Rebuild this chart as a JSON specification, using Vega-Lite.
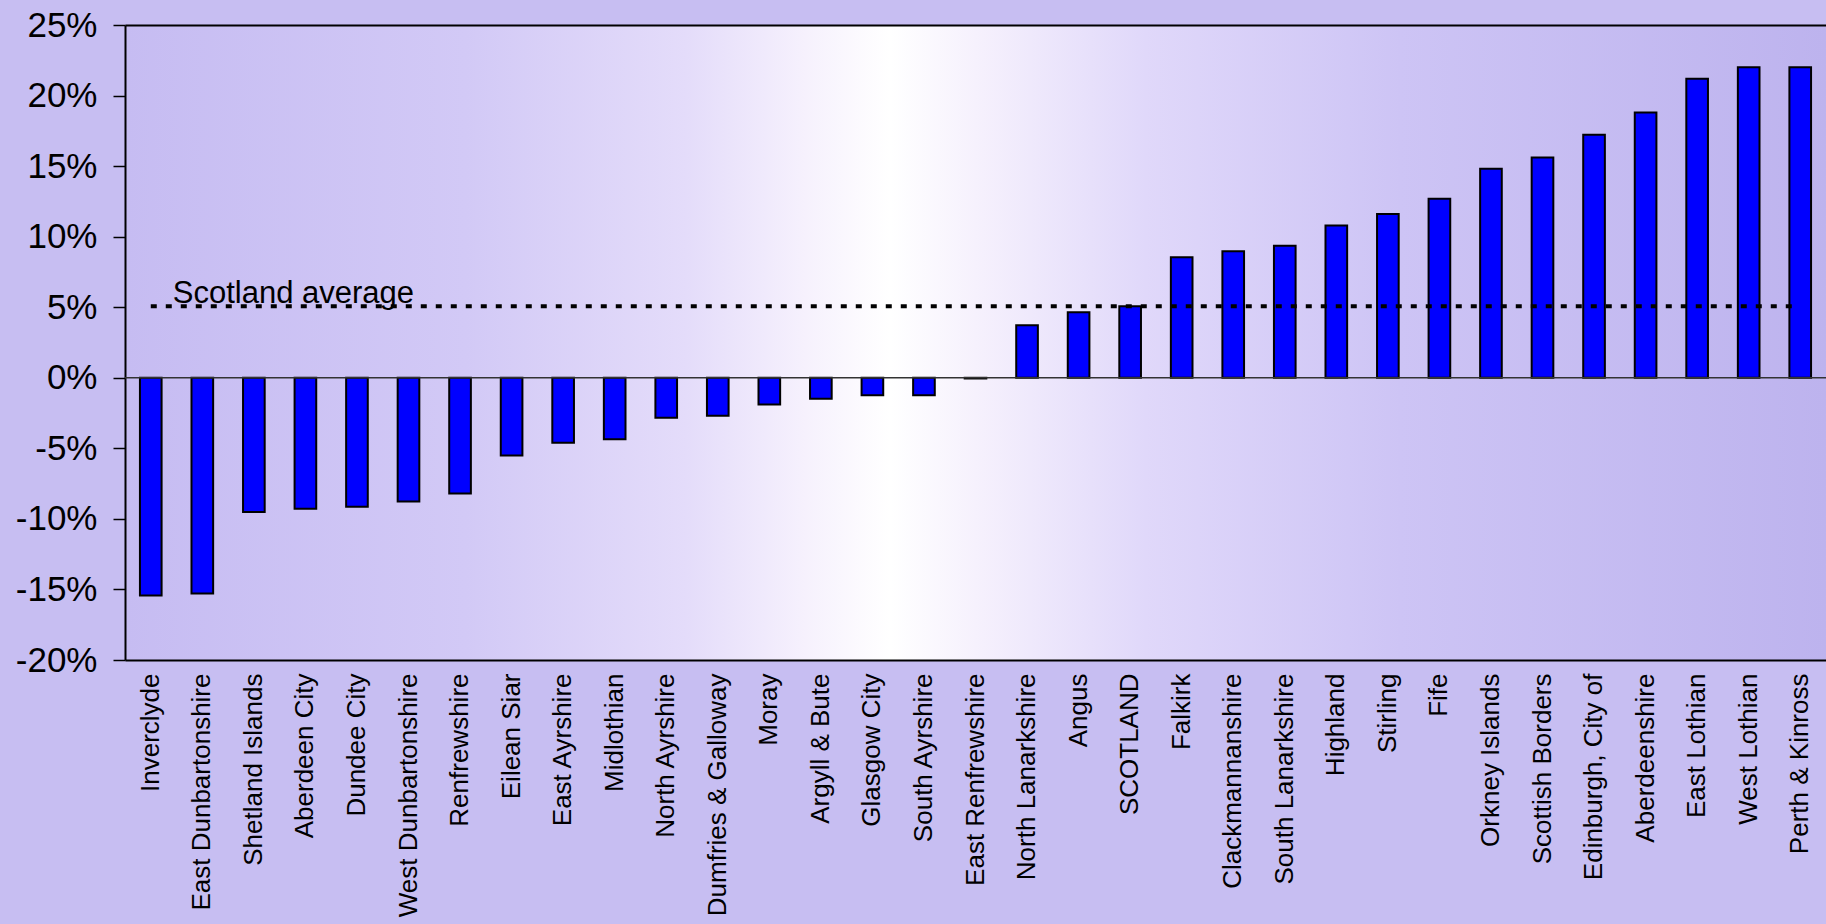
{
  "$schema": "https://vega.github.io/schema/vega-lite/v6.json",
  "width": 1701,
  "height": 635,
  "autosize": {"type": "none"},
  "padding": {"left": 125, "top": 25, "right": 0, "bottom": 264},
  "background": "#c7bef2",
  "config": {
    "view": {
      "stroke": null,
      "fill": {
        "gradient": "linear",
        "x1": 0, "y1": 0, "x2": 1, "y2": 0,
        "stops": [
          {"offset": 0, "color": "#c6bcf2"},
          {"offset": 0.2, "color": "#d2c9f6"},
          {"offset": 0.33, "color": "#e4dcfa"},
          {"offset": 0.4, "color": "#f6f1fd"},
          {"offset": 0.45, "color": "#ffffff"},
          {"offset": 0.5, "color": "#f6f1fd"},
          {"offset": 0.6, "color": "#e0d8fa"},
          {"offset": 0.75, "color": "#cdc4f5"},
          {"offset": 1, "color": "#bdb3ee"}
        ]
      }
    },
    "font": "Liberation Sans"
  },
  "datasets": {
    "main": [
      {"area": "Inverclyde", "change": -15.43},
      {"area": "East Dunbartonshire", "change": -15.29},
      {"area": "Shetland Islands", "change": -9.52},
      {"area": "Aberdeen City", "change": -9.28},
      {"area": "Dundee City", "change": -9.14},
      {"area": "West Dunbartonshire", "change": -8.77},
      {"area": "Renfrewshire", "change": -8.2},
      {"area": "Eilean Siar", "change": -5.5},
      {"area": "East Ayrshire", "change": -4.6},
      {"area": "Midlothian", "change": -4.35},
      {"area": "North Ayrshire", "change": -2.84},
      {"area": "Dumfries & Galloway", "change": -2.69},
      {"area": "Moray", "change": -1.89},
      {"area": "Argyll & Bute", "change": -1.49},
      {"area": "Glasgow City", "change": -1.23},
      {"area": "South Ayrshire", "change": -1.23},
      {"area": "East Renfrewshire", "change": -0.05},
      {"area": "North Lanarkshire", "change": 3.73},
      {"area": "Angus", "change": 4.65},
      {"area": "SCOTLAND", "change": 5.07},
      {"area": "Falkirk", "change": 8.55},
      {"area": "Clackmannanshire", "change": 8.97},
      {"area": "South Lanarkshire", "change": 9.35},
      {"area": "Highland", "change": 10.8},
      {"area": "Stirling", "change": 11.6},
      {"area": "Fife", "change": 12.69},
      {"area": "Orkney Islands", "change": 14.81},
      {"area": "Scottish Borders", "change": 15.61},
      {"area": "Edinburgh, City of", "change": 17.22},
      {"area": "Aberdeenshire", "change": 18.8},
      {"area": "East Lothian", "change": 21.19},
      {"area": "West Lothian", "change": 22.0},
      {"area": "Perth & Kinross", "change": 22.0}
    ],
    "avg": [
      {"area": "Inverclyde", "change": 5.07, "label": "Scotland average"},
      {"area": "Perth & Kinross", "change": 5.07, "label": ""}
    ]
  },
  "layer": [
    {
      "data": {"name": "main"},
      "mark": {"type": "bar", "fill": "#0000ff", "stroke": "#000000", "strokeWidth": 2},
      "encoding": {
        "x": {
          "field": "area", "type": "nominal", "sort": null,
          "scale": {"paddingInner": 0.58, "paddingOuter": 0.29},
          "axis": {
            "title": null, "labelAngle": -90, "labelAlign": "right", "labelBaseline": "middle",
            "labelFontSize": 26, "labelColor": "#000000", "labelPadding": 13,
            "ticks": false, "domainColor": "#000000", "domainWidth": 2, "labelLimit": 400,
            "labelOverlap": false
          }
        },
        "y": {
          "field": "change", "type": "quantitative",
          "scale": {"domain": [-20, 25], "nice": false, "zero": false},
          "axis": {
            "title": null, "values": [-20, -15, -10, -5, 0, 5, 10, 15, 20, 25],
            "labelExpr": "datum.value + '%'", "labelFontSize": 35, "labelColor": "#000000",
            "tickSize": 12, "tickColor": "#000000", "tickWidth": 1.5, "labelPadding": 16,
            "domainColor": "#000000", "domainWidth": 2, "grid": false
          }
        }
      }
    },
    {
      "data": {"values": [{"zero": 0}]},
      "mark": {"type": "rule", "color": "#333333", "strokeWidth": 1.5},
      "encoding": {"y": {"field": "zero", "type": "quantitative"}}
    },
    {
      "data": {"name": "avg"},
      "mark": {"type": "line", "color": "#000000", "strokeWidth": 4, "strokeDash": [6, 9]},
      "encoding": {
        "x": {
          "field": "area", "type": "nominal", "sort": null,
          "axis": {"orient": "top", "labels": false, "ticks": false, "title": null, "domainColor": "#000000", "domainWidth": 2}
        },
        "y": {"field": "change", "type": "quantitative"}
      }
    },
    {
      "data": {"name": "avg"},
      "transform": [{"filter": "datum.label != ''"}],
      "mark": {"type": "text", "align": "left", "baseline": "alphabetic", "dx": 22, "dy": -3, "fontSize": 31, "color": "#000000"},
      "encoding": {
        "x": {"field": "area", "type": "nominal", "sort": null, "axis": null},
        "y": {"field": "change", "type": "quantitative"},
        "text": {"field": "label"}
      }
    }
  ],
  "resolve": {"axis": {"x": "independent"}}
}
